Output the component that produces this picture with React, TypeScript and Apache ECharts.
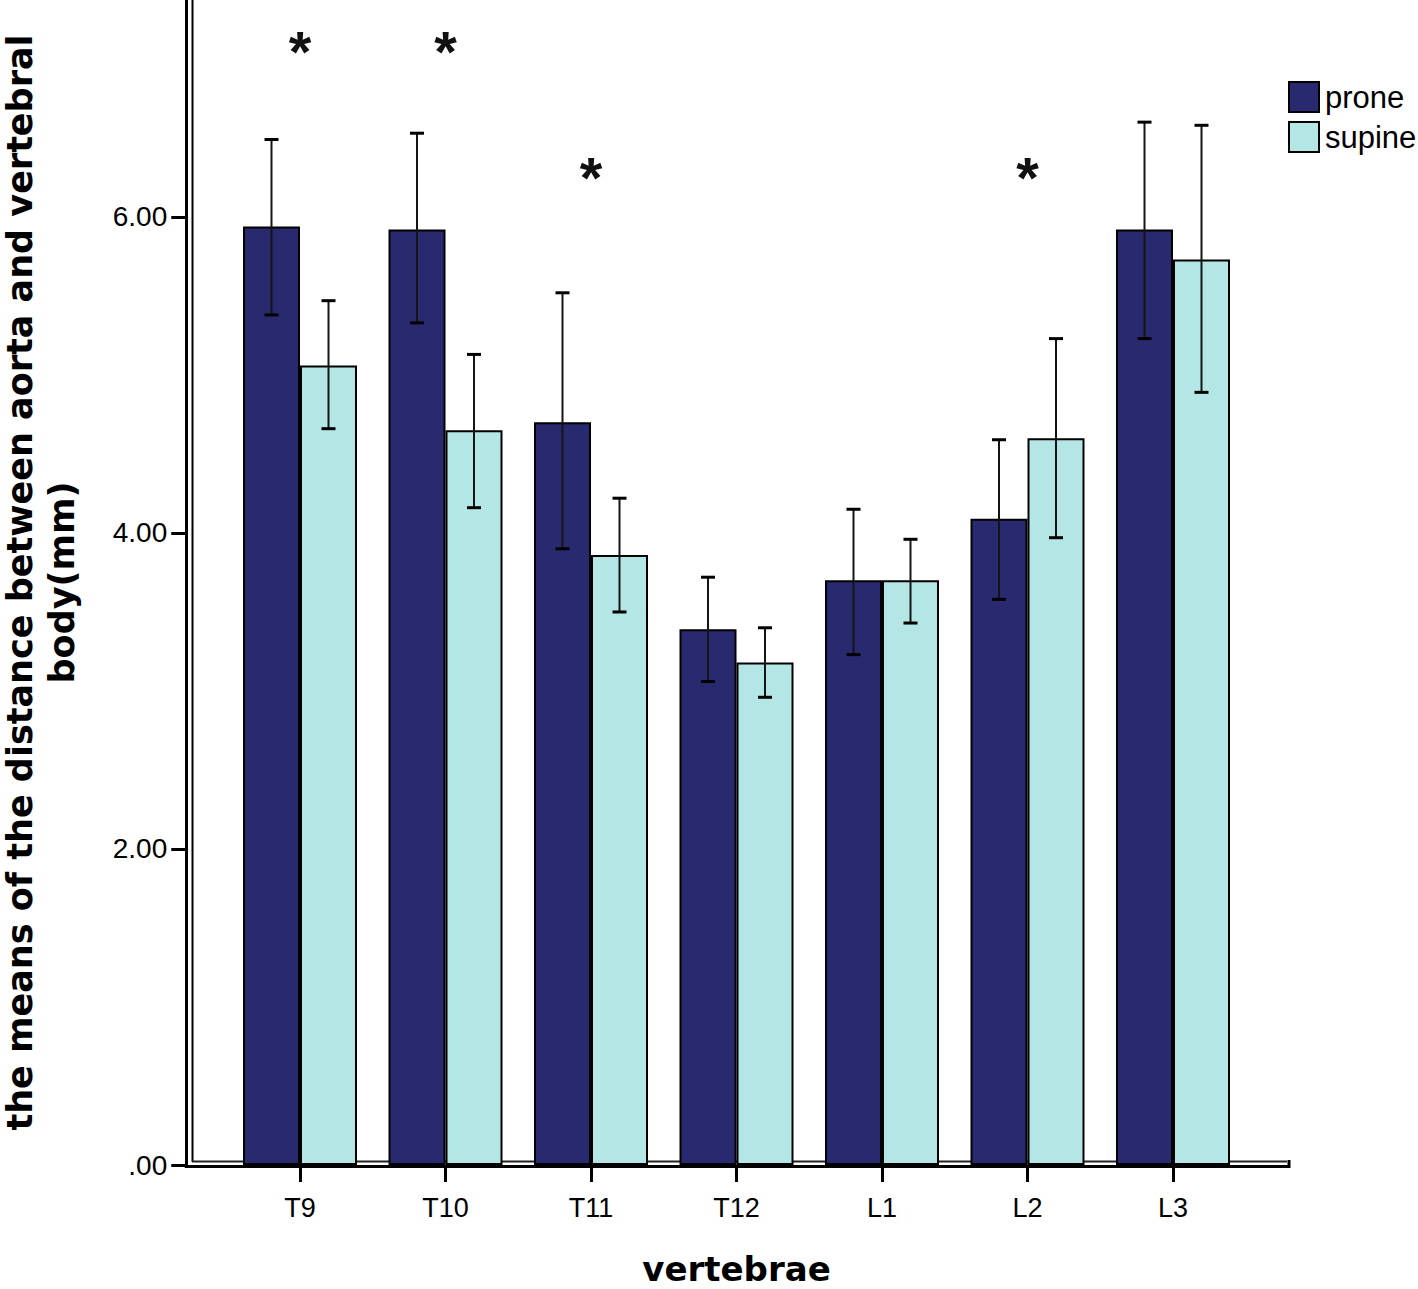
import React, { useEffect, useRef } from 'react';
import * as echarts from 'echarts';

const categories = ['T9', 'T10', 'T11', 'T12', 'L1', 'L2', 'L3'];
const proneMeans = [5.94, 5.92, 4.7, 3.39, 3.7, 4.09, 5.92];
const proneLow = [5.38, 5.33, 3.9, 3.06, 3.23, 3.58, 5.23];
const proneHigh = [6.49, 6.53, 5.52, 3.72, 4.15, 4.59, 6.6];
const supineMeans = [5.06, 4.65, 3.86, 3.18, 3.7, 4.6, 5.73];
const supineLow = [4.66, 4.16, 3.5, 2.96, 3.43, 3.97, 4.89];
const supineHigh = [5.47, 5.13, 4.22, 3.4, 3.96, 5.23, 6.58];
const starCategories = ['T9', 'T10', 'T11', 'L2'];
const starHeights = [7.05, 7.05, 6.25, 6.25];
const yMax = 7.373;
const yInterval = 2;

const PRONE = '#29296f';
const SUPINE = '#b4e6e6';
const BAR_W = 57;

function errorSeries(name: string, low: number[], high: number[], offset: number) {
  return {
    type: 'custom',
    name: name + '-err',
    z: 10,
    silent: true,
    data: low.map((l, i) => [i, l, high[i]]),
    renderItem: (params: any, api: any) => {
      const idx = api.value(0);
      const lo = api.coord([idx, api.value(1)]);
      const hi = api.coord([idx, api.value(2)]);
      const x = lo[0] + offset;
      const cap = 7;
      const st = { stroke: '#151515', lineWidth: 2 };
      return {
        type: 'group',
        children: [
          { type: 'line', shape: { x1: x, y1: lo[1], x2: x, y2: hi[1] }, style: st },
          { type: 'line', shape: { x1: x - cap, y1: lo[1], x2: x + cap, y2: lo[1] }, style: { stroke: '#000', lineWidth: 3 } },
          { type: 'line', shape: { x1: x - cap, y1: hi[1], x2: x + cap, y2: hi[1] }, style: { stroke: '#000', lineWidth: 3 } },
        ],
      };
    },
  };
}

export default function App() {
  const ref = useRef<HTMLDivElement>(null);
  useEffect(() => {
    if (!ref.current) return;
    const chart = echarts.init(ref.current, undefined, { renderer: 'svg' });
    const option: any = {
      animation: false,
      backgroundColor: '#fff',
      textStyle: { fontFamily: 'Liberation Sans' },
      grid: { left: 227.25, right: 172.25, top: 0, bottom: 124, containLabel: false, outerBoundsMode: 'none' },
      legend: {
        orient: 'vertical',
        left: 1288,
        top: 81,
        padding: 0,
        itemWidth: 30,
        itemHeight: 30,
        itemGap: 8,
        icon: 'rect',
        data: ['prone', 'supine'],
        textStyle: { fontSize: 31, color: '#000', fontFamily: 'Liberation Sans', padding: [0, 0, 0, 1] },
      },
      xAxis: {
        type: 'category',
        data: categories,
        axisLine: { show: false },
        axisTick: { show: true, alignWithLabel: true, length: 17, lineStyle: { color: '#000', width: 3 } },
        axisLabel: { fontSize: 27, color: '#000', margin: 29, fontFamily: 'Liberation Sans' },
        name: 'vertebrae',
        nameLocation: 'middle',
        nameGap: 87,
        nameTextStyle: { fontFamily: 'DejaVu Sans', fontWeight: 'bold', fontSize: 34, color: '#000' },
      },
      yAxis: {
        type: 'value',
        min: 0,
        max: yMax,
        interval: yInterval,
        offset: 41,
        splitLine: { show: false },
        axisLine: { show: true, lineStyle: { color: '#000', width: 3 } },
        axisTick: { show: true, length: 15, lineStyle: { color: '#000', width: 3 } },
        axisLabel: {
          fontSize: 28,
          color: '#000',
          margin: 19,
          showMaxLabel: false,
          fontFamily: 'Liberation Sans',
          formatter: (v: number) => (v === 0 ? '.00' : v.toFixed(2)),
        },
        name: 'the means of the distance between aorta and vertebral\nbody(mm)',
        nameLocation: 'middle',
        nameRotate: 90,
        nameGap: 103,
        nameTextStyle: { fontFamily: 'DejaVu Sans', fontWeight: 'bold', fontSize: 35, lineHeight: 42, color: '#000' },
      },
      series: [
        {
          type: 'bar',
          name: 'prone',
          data: proneMeans,
          barWidth: BAR_W,
          barGap: '0%',
          itemStyle: { color: PRONE, borderColor: '#000', borderWidth: 2 },
        },
        {
          type: 'bar',
          name: 'supine',
          data: supineMeans,
          barWidth: BAR_W,
          barGap: '0%',
          itemStyle: { color: SUPINE, borderColor: '#000', borderWidth: 2 },
        },
        errorSeries('prone', proneLow, proneHigh, -BAR_W / 2),
        errorSeries('supine', supineLow, supineHigh, BAR_W / 2),
        {
          type: 'custom',
          name: 'stars',
          silent: true,
          data: starCategories.map((c, i) => [categories.indexOf(c), starHeights[i]]),
          renderItem: (params: any, api: any) => {
            const p = api.coord([api.value(0), api.value(1)]);
            return {
              type: 'text',
              x: p[0],
              y: p[1],
              style: {
                text: '*',
                fill: '#111',
                font: 'bold 58px "Liberation Sans"',
                textAlign: 'center',
                textVerticalAlign: 'middle',
              },
            };
          },
        },
      ],
      graphic: [
        { type: 'line', silent: true, shape: { x1: 192.5, y1: 0, x2: 192.5, y2: 1162 }, style: { stroke: '#000', lineWidth: 2 } },
        { type: 'line', silent: true, shape: { x1: 192, y1: 1161.5, x2: 1287, y2: 1161.5 }, style: { stroke: '#222', lineWidth: 2 } },
        { type: 'line', silent: true, shape: { x1: 184.75, y1: 1166.5, x2: 1290, y2: 1166.5 }, style: { stroke: '#000', lineWidth: 3 } },
        { type: 'line', silent: true, shape: { x1: 1289, y1: 1160, x2: 1289, y2: 1168 }, style: { stroke: '#000', lineWidth: 3 } },
      ],
    };
    chart.setOption(option);
    return () => chart.dispose();
  }, []);
  return <div ref={ref} style={{ position: 'absolute', left: 0, top: 0, width: 1418, height: 1289 }} />;
}
